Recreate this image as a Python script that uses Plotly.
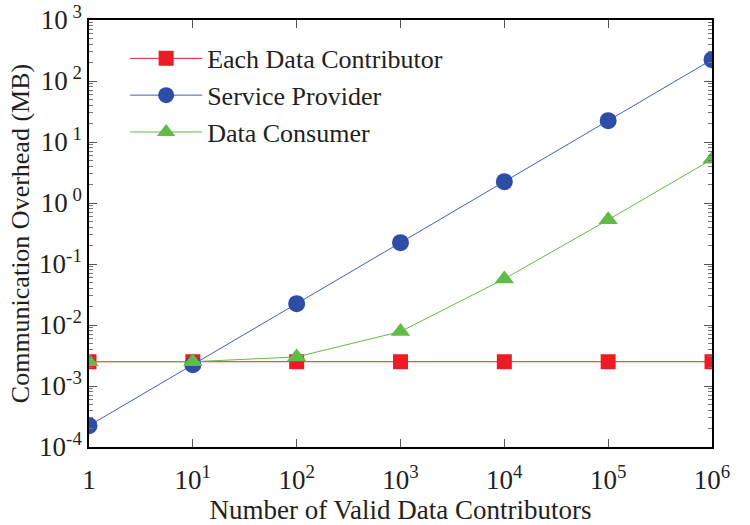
import plotly.graph_objects as go

contributors = [1, 10, 100, 1000, 10000, 100000, 1000000]
each_contributor = [0.0025, 0.0025, 0.0025, 0.0025, 0.0025, 0.0025, 0.0025]
service_provider = [0.000224, 0.00224, 0.0224, 0.224, 2.24, 22.4, 224]
data_consumer = [0.0025, 0.0025, 0.003, 0.0078, 0.057, 0.53, 5.2]

x_tickvals = [1, 10, 100, 1000, 10000, 100000, 1000000]
x_ticktext = ["1", "10<sup>1</sup>", "10<sup>2</sup>", "10<sup>3</sup>", "10<sup>4</sup>", "10<sup>5</sup>", "10<sup>6</sup>"]
y_tickvals = [1e-4, 1e-3, 1e-2, 1e-1, 1, 10, 100, 1000]
y_ticktext = ["10<sup>-4</sup>", "10<sup>-3</sup>", "10<sup>-2</sup>", "10<sup>-1</sup>", "10<sup> 0</sup>", "10<sup> 1</sup>", "10<sup> 2</sup>", "10<sup> 3</sup>"]

FONT = "Liberation Serif"
INK = "#231F20"

fig = go.Figure()
fig.add_trace(go.Scatter(x=contributors, y=each_contributor, name="Each Data Contributor",
                         mode="lines+markers", line=dict(color="#ED1C24", width=1),
                         marker=dict(symbol="square", size=15, color="#ED1C24")))
fig.add_trace(go.Scatter(x=contributors, y=service_provider, name="Service Provider",
                         mode="lines+markers", line=dict(color="#3F5FBF", width=1),
                         marker=dict(symbol="circle", size=17, color="#2E4DA7")))
fig.add_trace(go.Scatter(x=contributors, y=data_consumer, name="Data Consumer",
                         mode="lines+markers", line=dict(color="#62BB46", width=1),
                         marker=dict(symbol="triangle-up", size=17, color="#62BB46")))

fig.update_layout(
    width=750, height=525,
    margin=dict(l=89, r=38, t=20, b=78),
    paper_bgcolor="white", plot_bgcolor="white",
    font=dict(family=FONT, size=27, color=INK),
    showlegend=True,
    legend=dict(x=0.058, y=0.965, xanchor="left", yanchor="top",
                bgcolor="rgba(0,0,0,0)", font=dict(family=FONT, size=26, color=INK),
                itemwidth=72, tracegroupgap=0),
    xaxis=dict(type="log", range=[0, 6], tickvals=x_tickvals, ticktext=x_ticktext,
               ticks="inside", ticklen=8, tickwidth=1, tickcolor="#555",
               ticklabelstandoff=8, automargin=False,
               showline=True, linecolor="black", linewidth=1.5, mirror="ticks",
               showgrid=False, zeroline=False,
               tickfont=dict(family=FONT, size=27, color=INK),
               title=dict(text="Number of Valid Data Contributors", standoff=10,
                          font=dict(family=FONT, size=27, color=INK))),
    yaxis=dict(type="log", range=[-4, 3], tickvals=y_tickvals, ticktext=y_ticktext,
               ticks="inside", ticklen=8, tickwidth=1, tickcolor="#555",
               automargin=False,
               minor=dict(ticks="inside", ticklen=4, tickcolor="#777", tickwidth=1, dtick="D1"),
               showline=True, linecolor="black", linewidth=1.5, mirror="ticks",
               showgrid=False, zeroline=False,
               tickfont=dict(family=FONT, size=27, color=INK),
               title=dict(text="Communication Overhead (MB)", standoff=2,
                          font=dict(family=FONT, size=26, color=INK))),
)

fig.write_html("out.html")
